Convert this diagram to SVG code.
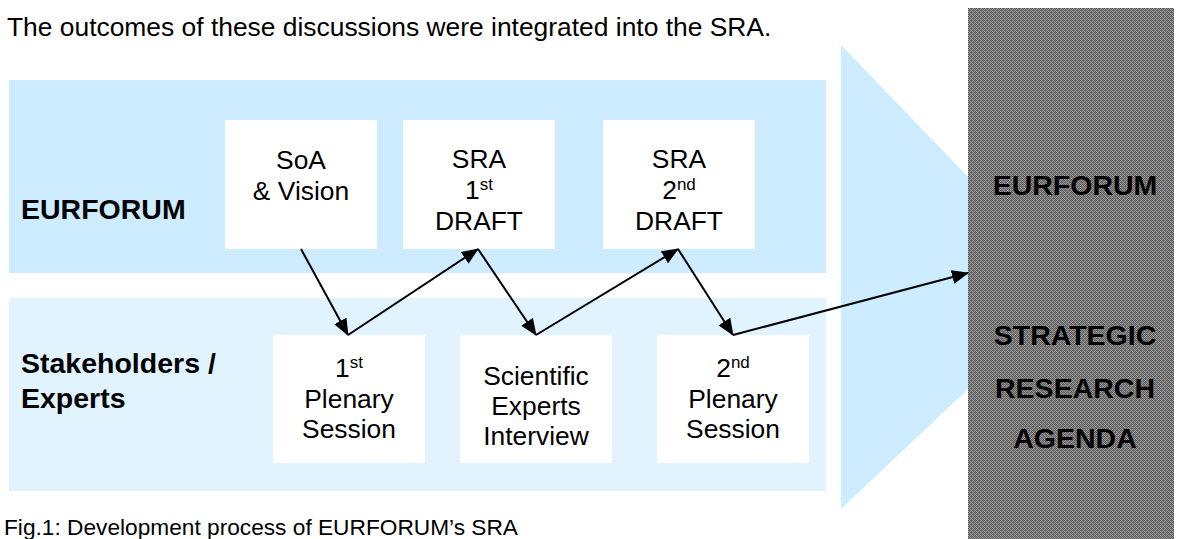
<svg xmlns="http://www.w3.org/2000/svg" width="1179" height="539" viewBox="0 0 1179 539">
  <defs>
    <style>
      .t { font-family: "Liberation Sans", Arial, sans-serif; font-size: 26.4px; fill: #000; }
      .c { text-anchor: middle; }
      .b { font-family: "Liberation Sans", Arial, sans-serif; font-size: 28.5px; font-weight: bold; fill: #000; }
      .box { fill: #ffffff; }
      .conn { stroke: #000; stroke-width: 2; fill: none; marker-end: url(#ah); }
      .sup { font-size: 17px; }
    </style>
    <marker id="ah" markerUnits="userSpaceOnUse" markerWidth="17" markerHeight="14" refX="16" refY="7" orient="auto">
      <path d="M0,0 L17,7 L0,14 z" fill="#000"/>
    </marker>
    <pattern id="dither" width="4" height="4" patternUnits="userSpaceOnUse">
      <rect width="4" height="4" fill="#9a9a9a"/>
      <rect x="0" y="0" width="1" height="1" fill="#5a5a5a"/>
      <rect x="2" y="0" width="1" height="1" fill="#5a5a5a"/>
      <rect x="1" y="1" width="1" height="1" fill="#5a5a5a"/>
      <rect x="3" y="1" width="1" height="1" fill="#6a6a6a"/>
      <rect x="0" y="2" width="1" height="1" fill="#5a5a5a"/>
      <rect x="2" y="2" width="1" height="1" fill="#5a5a5a"/>
      <rect x="1" y="3" width="1" height="1" fill="#6a6a6a"/>
      <rect x="3" y="3" width="1" height="1" fill="#5a5a5a"/>
      <rect x="1" y="2" width="1" height="1" fill="#7a7a7a"/>
      <rect x="3" y="0" width="1" height="1" fill="#7a7a7a"/>
    </pattern>
  </defs>

  <rect width="1179" height="539" fill="#ffffff"/>

  <text class="t" x="7" y="36">The outcomes of these discussions were integrated into the SRA.</text>

  <!-- big arrow background -->
  <polygon id="bigArrow" points="841,45 1075,288 841,509" fill="#cdecff"/>

  <!-- bands -->
  <g id="band-eurforum">
    <rect x="9" y="80" width="817" height="193" fill="#cdecff"/>
    <text class="b" x="21" y="219">EURFORUM</text>
  </g>
  <g id="band-stakeholders">
    <rect x="9" y="298" width="817" height="193" fill="#e1f3ff"/>
    <text class="b" x="21" y="373">Stakeholders /</text>
    <text class="b" x="21" y="408">Experts</text>
  </g>

  <!-- nodes -->
  <g id="soa">
    <rect class="box" x="225" y="120" width="152" height="129"/>
    <text class="t c" x="301" y="169">SoA</text>
    <text class="t c" x="301" y="200">&amp; Vision</text>
  </g>
  <g id="sra1">
    <rect class="box" x="403" y="120" width="152" height="129"/>
    <text class="t c" x="479" y="168">SRA</text>
    <text class="t c" x="479" y="199">1<tspan class="sup" dy="-9">st</tspan></text>
    <text class="t c" x="479" y="230">DRAFT</text>
  </g>
  <g id="sra2">
    <rect class="box" x="603" y="120" width="152" height="129"/>
    <text class="t c" x="679" y="168">SRA</text>
    <text class="t c" x="679" y="199">2<tspan class="sup" dy="-9">nd</tspan></text>
    <text class="t c" x="679" y="230">DRAFT</text>
  </g>
  <g id="plenary1">
    <rect class="box" x="273" y="335" width="152" height="128"/>
    <text class="t c" x="349" y="377">1<tspan class="sup" dy="-9">st</tspan></text>
    <text class="t c" x="349" y="408">Plenary</text>
    <text class="t c" x="349" y="438">Session</text>
  </g>
  <g id="scientific">
    <rect class="box" x="460" y="335" width="152" height="128"/>
    <text class="t c" x="536" y="385">Scientific</text>
    <text class="t c" x="536" y="415">Experts</text>
    <text class="t c" x="536" y="445">Interview</text>
  </g>
  <g id="plenary2">
    <rect class="box" x="657" y="335" width="152" height="128"/>
    <text class="t c" x="733" y="377">2<tspan class="sup" dy="-9">nd</tspan></text>
    <text class="t c" x="733" y="408">Plenary</text>
    <text class="t c" x="733" y="438">Session</text>
  </g>

  <!-- result panel -->
  <g id="sra-final">
    <rect x="968" y="8" width="206" height="531" fill="url(#dither)"/>
    <text class="b c" x="1075" y="195">EURFORUM</text>
    <text class="b c" x="1075" y="345">STRATEGIC</text>
    <text class="b c" x="1075" y="398">RESEARCH</text>
    <text class="b c" x="1075" y="448">AGENDA</text>
  </g>

  <!-- connectors -->
  <g id="connectors">
    <line class="conn" x1="301" y1="249" x2="348" y2="335"/>
    <line class="conn" x1="348" y1="335" x2="478" y2="249"/>
    <line class="conn" x1="478" y1="249" x2="536" y2="335"/>
    <line class="conn" x1="536" y1="335" x2="678" y2="249"/>
    <line class="conn" x1="678" y1="249" x2="733" y2="335"/>
    <line class="conn" x1="733" y1="335" x2="968" y2="273"/>
  </g>

  <text class="t" x="4" y="535" style="font-size:22.7px">Fig.1: Development process of EURFORUM’s SRA</text>
</svg>
